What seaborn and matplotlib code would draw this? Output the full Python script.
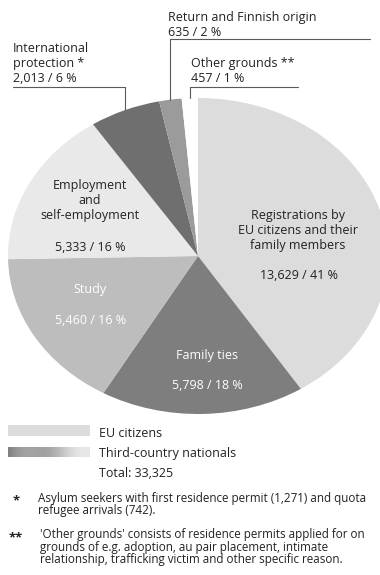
import numpy as np
import matplotlib
matplotlib.use("Agg")
import matplotlib.pyplot as plt
import seaborn as sns

# ---- data ----
categories = ["Registrations by EU citizens and their family members", "Family ties", "Study",
              "Employment and self-employment", "International protection",
              "Return and Finnish origin", "Other grounds"]
values = [13629, 5798, 5460, 5333, 2013, 635, 457]
pct_labels = ["13,629 / 41 %", "5,798 / 18 %", "5,460 / 16 %", "5,333 / 16 %",
              "2,013 / 6 %", "635 / 2 %", "457 / 1 %"]
slice_colors = ["#dcdcdc", "#7e7e7e", "#bdbdbd", "#e9e9e9", "#6f6f6f", "#9b9b9b", "#ffffff"]
legend_labels = ["EU citizens", "Third-country nationals"]
total_label = "Total: 33,325"
footnote1 = ["Asylum seekers with first residence permit (1,271) and quota",
             "refugee arrivals (742)."]
footnote2 = ["'Other grounds' consists of residence permits applied for on",
             "grounds of e.g. adoption, au pair placement, intimate",
             "relationship, trafficking victim and other specific reason."]

sns.set_theme(style="white")
plt.rcParams["font.family"] = ["Open Sans", "DejaVu Sans"]

W, H = 380, 575
fig = plt.figure(figsize=(W / 100, H / 100), dpi=100)
fig.patch.set_facecolor("white")

# pie axes (elliptical pie, slightly cropped on the right)
cx, cy, rx, ry = 198, 256, 190, 158
ax = fig.add_axes([(cx - rx) / W, (H - (cy + ry)) / H, 2 * rx / W, 2 * ry / H])
wedges, _ = ax.pie(values, colors=slice_colors, startangle=90, counterclock=False,
                   radius=1, wedgeprops=dict(linewidth=0))
ax.set_aspect("auto")
ax.set_xlim(-1, 1)
ax.set_ylim(-1, 1)
ax.axis("off")

# overlay axes in pixel coordinates
ov = fig.add_axes([0, 0, 1, 1], facecolor="none")
ov.set_xlim(0, W)
ov.set_ylim(H, 0)
ov.axis("off")

txt = "#222222"
FS = 9.0

def edge_point(w, r=1.0):
    ang = np.deg2rad((w.theta1 + w.theta2) / 2)
    disp = ax.transData.transform((r * np.cos(ang), r * np.sin(ang)))
    return ov.transData.inverted().transform(disp)

def lines(x, y0, rows, dy, **kw):
    for i, s in enumerate(rows):
        ov.text(x, y0 + i * dy, s, va="baseline", **kw)

lc = "#5a5a5a"
# Return and Finnish origin
px, py = edge_point(wedges[5])
ov.plot([px, px], [39, py], color=lc, lw=0.8)
ov.plot([px, 370], [39, 39], color=lc, lw=0.8)
lines(168, 21, [categories[5], pct_labels[5]], 15, fontsize=FS, color=txt, ha="left")

# International protection
px, py = edge_point(wedges[4])
ov.plot([px, px], [87, py], color=lc, lw=0.8)
ov.plot([13, px], [87, 87], color=lc, lw=0.8)
lines(13, 52, ["International", "protection *", pct_labels[4]], 15, fontsize=FS, color=txt, ha="left")

# Other grounds
px, py = edge_point(wedges[6])
ov.plot([px, px], [87, py], color=lc, lw=0.8)
ov.plot([px, 298], [87, 87], color=lc, lw=0.8)
lines(191, 67, ["Other grounds **", pct_labels[6]], 15, fontsize=FS, color=txt, ha="left")

# Inside labels
lines(90, 189, ["Employment", "and", "self-employment"], 15, fontsize=FS, color=txt, ha="center")
ov.text(90, 251, pct_labels[3], fontsize=FS, color=txt, ha="center", va="baseline")
lines(298, 219, ["Registrations by", "EU citizens and their", "family members"], 15,
      fontsize=FS, color=txt, ha="center")
ov.text(299, 279, pct_labels[0], fontsize=FS, color=txt, ha="center", va="baseline")
ov.text(90, 293, categories[2], fontsize=FS, color="white", ha="center", va="baseline")
ov.text(91, 324, pct_labels[2], fontsize=FS, color="white", ha="center", va="baseline")
ov.text(207, 359, categories[1], fontsize=FS, color="white", ha="center", va="baseline")
ov.text(207, 389, pct_labels[1], fontsize=FS, color="white", ha="center", va="baseline")

# Legend
ov.add_patch(plt.Rectangle((8, 425), 82, 11, color=slice_colors[0], lw=0))
grad = np.linspace(0.50, 0.90, 200).reshape(1, -1)
grad = grad + 0.05 * np.sin(np.linspace(0, 3 * np.pi, 200))
ov.imshow(grad, extent=(8, 90, 457, 447), cmap="gray", vmin=0, vmax=1, aspect="auto",
          interpolation="bilinear")
ov.set_xlim(0, W)
ov.set_ylim(H, 0)
ov.text(99, 437, legend_labels[0], fontsize=FS, color=txt, va="baseline")
ov.text(99, 457, legend_labels[1], fontsize=FS, color=txt, va="baseline")
ov.text(99, 477, total_label, fontsize=FS, color=txt, va="baseline")

# Footnotes
FS2 = 8.35
ov.text(16, 504, "*", fontsize=FS2 + 1, color=txt, ha="center", va="baseline", fontweight="bold")
lines(38, 502, footnote1, 12.3, fontsize=FS2, color=txt, ha="left")
ov.text(16, 541, "**", fontsize=FS2 + 1, color=txt, ha="center", va="baseline", fontweight="bold")
lines(40, 538, footnote2, 12.5, fontsize=FS2, color=txt, ha="left")

fig.savefig("out.png", dpi=100, facecolor="white")
